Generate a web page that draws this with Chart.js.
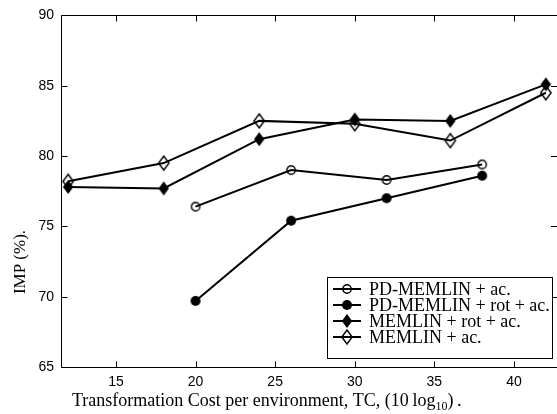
<!DOCTYPE html>
<html>
<head>
<meta charset="utf-8">
<script src="https://cdn.jsdelivr.net/npm/chart.js@4/dist/chart.umd.min.js"></script>
<style>
html,body{margin:0;padding:0;background:#fff;}
#wrap{width:557px;height:414px;position:relative;}
canvas{display:block;}
</style>
</head>
<body>
<div id="wrap"><canvas id="c" width="557" height="414"></canvas></div>
<script>
// ---- data ----
const xMemlin = [12, 18, 24, 30, 36, 42];
const memlinRotAc = [77.8, 77.7, 81.2, 82.6, 82.5, 85.1];
const memlinAc = [78.2, 79.5, 82.5, 82.3, 81.1, 84.5];
const xPd = [20, 26, 32, 38];
const pdAc = [76.4, 79.0, 78.3, 79.4];
const pdRotAc = [69.7, 75.4, 77.0, 78.6];
const xTicks = [15, 20, 25, 30, 35, 40];
const yTicks = [65, 70, 75, 80, 85, 90];
const seriesNames = ['PD-MEMLIN + ac.', 'PD-MEMLIN + rot + ac.', 'MEMLIN + rot + ac.', 'MEMLIN + ac.'];
const xTitle = ['Transformation Cost per environment, TC, (10\u2009log', '10', ')\u2009.'];
const yTitle = 'IMP (%).';

// ---- marker images ----
function mk(w, h, fn) {
  const c = document.createElement('canvas');
  c.width = w; c.height = h;
  const g = c.getContext('2d');
  fn(g, w / 2, h / 2);
  return c;
}
const mOpenCircle = mk(12, 12, (g, cx, cy) => {
  g.beginPath(); g.arc(cx, cy, 4.2, 0, Math.PI * 2);
  g.lineWidth = 1.4; g.strokeStyle = '#000'; g.stroke();
});
const mFilledCircle = mk(12, 12, (g, cx, cy) => {
  g.beginPath(); g.arc(cx, cy, 5, 0, Math.PI * 2);
  g.fillStyle = '#000'; g.fill();
});
const mFilledDiamond = mk(12, 16, (g, cx, cy) => {
  g.beginPath(); g.moveTo(cx, cy - 7); g.lineTo(cx + 5.2, cy); g.lineTo(cx, cy + 7); g.lineTo(cx - 5.2, cy); g.closePath();
  g.fillStyle = '#000'; g.fill();
});
const mOpenDiamond = mk(14, 18, (g, cx, cy) => {
  g.beginPath(); g.moveTo(cx, cy - 7); g.lineTo(cx + 5.2, cy); g.lineTo(cx, cy + 7); g.lineTo(cx - 5.2, cy); g.closePath();
  g.lineWidth = 1.4; g.strokeStyle = '#000'; g.stroke();
});
const markers = [mOpenCircle, mFilledCircle, mFilledDiamond, mOpenDiamond];

function pts(xs, ys) { return xs.map((x, i) => ({ x: x, y: ys[i] })); }

function ds(label, data, marker) {
  return {
    label: label, data: data,
    borderColor: '#000', borderWidth: 2, backgroundColor: '#000',
    pointStyle: marker, pointRadius: 6, pointHoverRadius: 6,
    tension: 0, fill: false, clip: false
  };
}

const framePlugin = {
  id: 'frame',
  afterDatasetsDraw(chart) {
    const ctx = chart.ctx, a = chart.chartArea;
    const xs = chart.scales.x, ys = chart.scales.y;
    const tl = 6;
    ctx.save();
    ctx.strokeStyle = '#000'; ctx.lineWidth = 1;
    const L = Math.round(a.left) + 0.5, T = Math.round(a.top) + 0.5, B = Math.round(a.bottom) + 0.5, R = 557;
    ctx.beginPath();
    ctx.moveTo(R, T); ctx.lineTo(L, T); ctx.lineTo(L, B); ctx.lineTo(R, B);
    xTicks.forEach(v => {
      const p = Math.round(xs.getPixelForValue(v)) + 0.5;
      ctx.moveTo(p, B); ctx.lineTo(p, B - tl);
      ctx.moveTo(p, T); ctx.lineTo(p, T + tl);
    });
    yTicks.forEach(v => {
      const p = Math.round(ys.getPixelForValue(v)) + 0.5;
      ctx.moveTo(L, p); ctx.lineTo(L + tl, p);
      ctx.moveTo(R, p); ctx.lineTo(R - tl, p);
    });
    ctx.stroke();

    // legend
    const bx = 327.5, by = 277.5, bw = 225, bh = 81;
    ctx.fillStyle = '#fff';
    ctx.fillRect(bx, by, bw, bh);
    ctx.strokeRect(bx, by, bw, bh);
    const rows = [289, 305, 321, 337];
    ctx.font = '18px "Liberation Serif", "Times New Roman", serif';
    ctx.textBaseline = 'middle';
    ctx.textAlign = 'left';
    ctx.fillStyle = '#000';
    rows.forEach((ry, i) => {
      ctx.beginPath(); ctx.lineWidth = 2;
      ctx.moveTo(333, ry); ctx.lineTo(361, ry); ctx.stroke();
      const m = markers[i];
      ctx.drawImage(m, 347 - m.width / 2, ry - m.height / 2);
      ctx.fillText(seriesNames[i], 369, ry + 1);
    });

    // axis titles
    ctx.textBaseline = 'alphabetic';
    ctx.font = '18px "Liberation Serif", "Times New Roman", serif';
    let x = 72;
    const base = 406;
    ctx.fillText(xTitle[0], x, base);
    x += ctx.measureText(xTitle[0]).width;
    ctx.font = '12px "Liberation Serif", "Times New Roman", serif';
    ctx.fillText(xTitle[1], x, base + 4);
    x += ctx.measureText(xTitle[1]).width;
    ctx.font = '18px "Liberation Serif", "Times New Roman", serif';
    ctx.fillText(xTitle[2], x, base);

    ctx.translate(25, 262);
    ctx.rotate(-Math.PI / 2);
    ctx.font = '17px "Liberation Serif", "Times New Roman", serif';
    ctx.textAlign = 'center';
    ctx.fillText(yTitle, 0, 0);
    ctx.restore();
  }
};

new Chart(document.getElementById('c'), {
  type: 'line',
  data: {
    datasets: [
      ds(seriesNames[0], pts(xPd, pdAc), mOpenCircle),
      ds(seriesNames[1], pts(xPd, pdRotAc), mFilledCircle),
      ds(seriesNames[2], pts(xMemlin, memlinRotAc), mFilledDiamond),
      ds(seriesNames[3], pts(xMemlin, memlinAc), mOpenDiamond)
    ]
  },
  options: {
    responsive: false,
    animation: false,
    devicePixelRatio: 1,
    layout: { padding: { top: 13, right: 0, left: 0, bottom: 0 } },
    plugins: { legend: { display: false }, tooltip: { enabled: false } },
    scales: {
      x: {
        type: 'linear', min: 11.55, max: 42.2,
        afterBuildTicks: s => { s.ticks = xTicks.map(v => ({ value: v })); },
        afterFit: s => { s.height = 47; },
        grid: { display: false, drawTicks: false },
        border: { display: false },
        ticks: { padding: 7, color: '#000', maxRotation: 0, font: { family: '"Liberation Sans", Arial, sans-serif', size: 14 } }
      },
      y: {
        type: 'linear', min: 65, max: 90,
        afterBuildTicks: s => { s.ticks = yTicks.map(v => ({ value: v })); },
        afterFit: s => { s.width = 61; },
        grid: { display: false, drawTicks: false },
        border: { display: false },
        ticks: { padding: 7, color: '#000', font: { family: '"Liberation Sans", Arial, sans-serif', size: 14 } }
      }
    }
  },
  plugins: [framePlugin]
});
</script>
</body>
</html>
